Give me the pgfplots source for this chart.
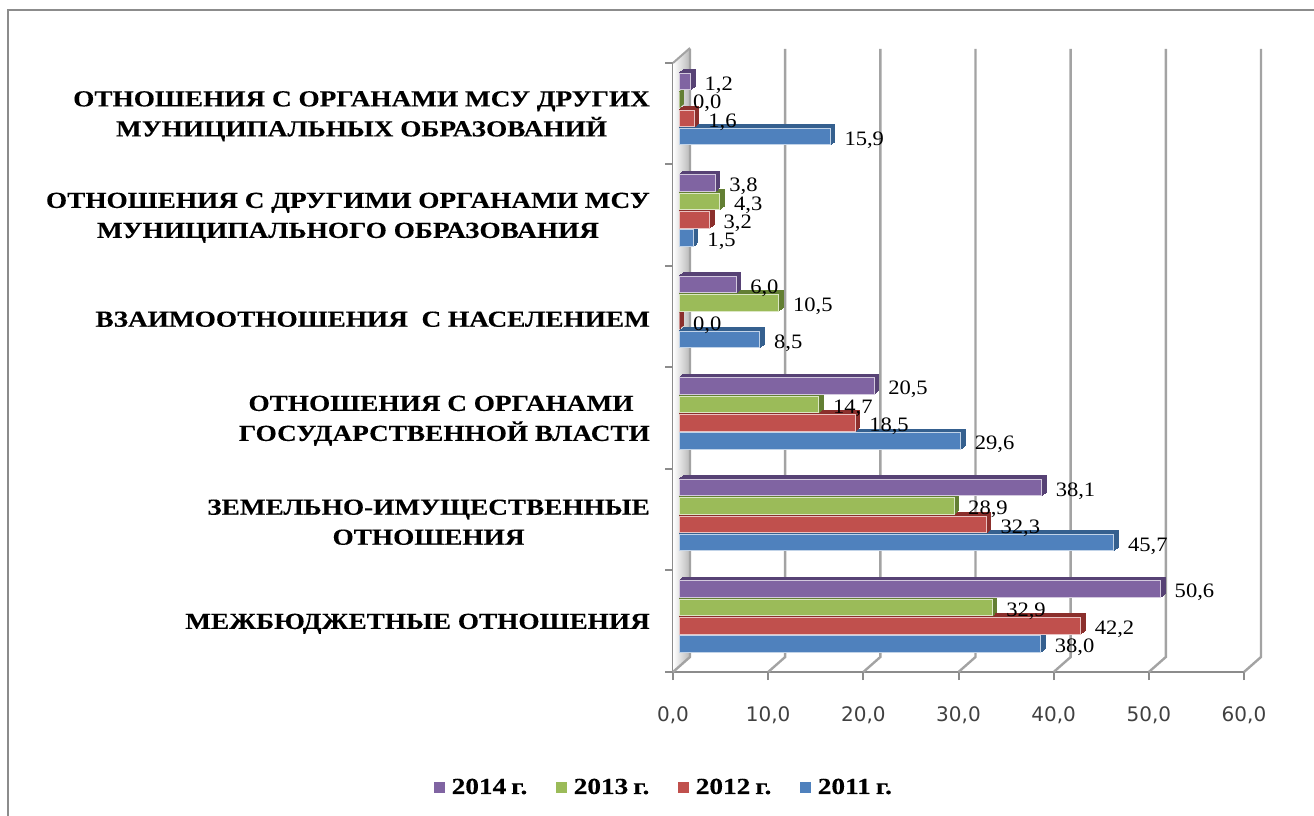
\documentclass[border=0pt]{standalone}
\usepackage{fontspec}
\usepackage{pgfplots}
\usepackage{pgfplotstable}
\pgfplotsset{compat=1.18}
\setmainfont{Liberation Serif}
\newfontfamily\lblfont[FakeStretch=1.1]{Liberation Serif}
\newfontfamily\catfont[FakeStretch=1.185,FakeBold=0.2]{Liberation Serif Bold}
\newfontfamily\tickfont{DejaVu Sans}
\definecolor{axc}{HTML}{8C8C8C}
\definecolor{gridc}{HTML}{A3A3A3}
\definecolor{blueF}{HTML}{4F81BD}
\definecolor{blueD}{HTML}{35608F}
\definecolor{redF}{HTML}{C0504D}
\definecolor{redD}{HTML}{8B2F2C}
\definecolor{greenF}{HTML}{9BBB59}
\definecolor{greenD}{HTML}{637F33}
\definecolor{purpF}{HTML}{8064A2}
\definecolor{purpD}{HTML}{574275}

\pgfplotstableread{
c y2011 y2012 y2013 y2014
0 38.0 42.2 32.9 50.6
1 45.7 32.3 28.9 38.1
2 29.6 18.5 14.7 20.5
3 8.5 0.0 10.5 6.0
4 1.5 3.2 4.3 3.8
5 15.9 1.6 0.0 1.2
}\datatab

% one 3D bar series: column, face colour, side colour, bar shift
\newcommand\barseries[4]{%
  \pgfplotsinvokeforeach{5,4,3,2,1}{%
    \addplot[xbar,forget plot,bar width=16.5pt,bar shift=#4,fill=#3,draw=#3,line width=1.2pt,
      xshift={6pt+0.9pt*##1},yshift={4.5pt+0.75pt*##1}] table[x=#1,y=c]{\datatab};
  }
  \addplot[xbar,forget plot,bar width=16.5pt,bar shift=#4,fill=#2,draw=#2!35!white,line width=1pt,
    xshift=6pt,yshift=4.5pt] table[x=#1,y=c]{\datatab};
}
\newcommand\labelseries[2]{%
  \addplot[xbar,forget plot,bar width=16.5pt,bar shift=#2,draw=none,fill=none,
    xshift=6pt,yshift=4.5pt,
    nodes near coords,
    nodes near coords style={font=\lblfont\fontsize{20.5}{21}\selectfont,text=black,inner sep=0pt,xshift=14pt,yshift={#2-3.5pt},
      /pgf/number format/.cd,fixed,fixed zerofill,precision=1,use comma,assume math mode=true}]
    table[x=#1,y=c]{\datatab};
}

\begin{document}
\begin{tikzpicture}[x=1pt,y=1pt]
\useasboundingbox (0,0) rectangle (1314,816);
\draw[axc,line width=2.6pt] (8,-5) -- (8,806) -- (1320,806);
\begin{axis}[
  at={(673pt,144pt)},anchor=south west,
  scale only axis,width=571pt,height=609pt,
  xmin=0,xmax=60,ymin=-0.5,ymax=5.5,
  clip=false,
  axis lines*=left,
  axis line style={axc,line width=2.4pt},
  tick style={axc,line width=2pt},
  tick align=outside,
  major tick length=8pt,
  xtick={0,10,...,60},
  ytick={-0.5,0.5,...,5.5},
  yticklabels={},
  extra y ticks={0,1,2,3,4,5},
  extra y tick labels={
    МЕЖБЮДЖЕТНЫЕ ОТНОШЕНИЯ,
    {ЗЕМЕЛЬНО-ИМУЩЕСТВЕННЫЕ\\ОТНОШЕНИЯ},
    {ОТНОШЕНИЯ С ОРГАНАМИ~~\\ГОСУДАРСТВЕННОЙ ВЛАСТИ},
    {ВЗАИМООТНОШЕНИЯ~ С НАСЕЛЕНИЕМ},
    {ОТНОШЕНИЯ С ДРУГИМИ ОРГАНАМИ МСУ\\МУНИЦИПАЛЬНОГО ОБРАЗОВАНИЯ},
    {ОТНОШЕНИЯ С ОРГАНАМИ МСУ ДРУГИХ\\МУНИЦИПАЛЬНЫХ ОБРАЗОВАНИЙ}},
  extra tick style={major tick length=0pt},
  yticklabel style={font=\catfont\fontsize{23}{30}\selectfont,align=center,inner sep=0pt,xshift=-23pt,yshift=-2.5pt,text=black},
  xticklabel style={font=\tickfont\fontsize{20}{24}\selectfont,text=black!75,inner sep=0pt,yshift=-26pt},
  x tick label style={/pgf/number format/.cd,fixed,fixed zerofill,precision=1,use comma,assume math mode=true},
  legend style={draw=none,fill=none,at={(-0.0155,-0.189)},anchor=center,legend columns=4,
    font=\catfont\fontsize{23}{24}\selectfont,
    /tikz/every even column/.append style={column sep=27pt},inner sep=0pt},
  legend cell align=left,
]
% side wall and back wall grid
\shade[left color=white,right color=gray!55] (axis cs:0,-0.5) -- ++(17pt,15pt) -- ++(0pt,608pt) -- (axis cs:0,5.5) -- cycle;
\pgfplotsinvokeforeach{0,10,...,60}{%
  \draw[gridc,line width=2.4pt] (axis cs:#1,-0.5) -- ++(17pt,15pt) -- ++(0pt,608pt);
}
\draw[gridc,line width=2pt] (axis cs:0,5.5) -- ++(17pt,15pt);

\addlegendimage{legend image code/.code={\fill[purpF] (0pt,-5pt) rectangle (10pt,5pt);}}
\addlegendentry{\hspace{5pt}2014\hspace{5pt}г.}
\addlegendimage{legend image code/.code={\fill[greenF] (0pt,-5pt) rectangle (10pt,5pt);}}
\addlegendentry{\hspace{5pt}2013\hspace{5pt}г.}
\addlegendimage{legend image code/.code={\fill[redF] (0pt,-5pt) rectangle (10pt,5pt);}}
\addlegendentry{\hspace{5pt}2012\hspace{5pt}г.}
\addlegendimage{legend image code/.code={\fill[blueF] (0pt,-5pt) rectangle (10pt,5pt);}}
\addlegendentry{\hspace{5pt}2011\hspace{5pt}г.}

\barseries{y2011}{blueF}{blueD}{-27.5pt}
\barseries{y2012}{redF}{redD}{-9.2pt}
\barseries{y2013}{greenF}{greenD}{9.2pt}
\barseries{y2014}{purpF}{purpD}{27.5pt}
\labelseries{y2011}{-27.5pt}
\labelseries{y2012}{-9.2pt}
\labelseries{y2013}{9.2pt}
\labelseries{y2014}{27.5pt}
\end{axis}
\end{tikzpicture}
\end{document}
